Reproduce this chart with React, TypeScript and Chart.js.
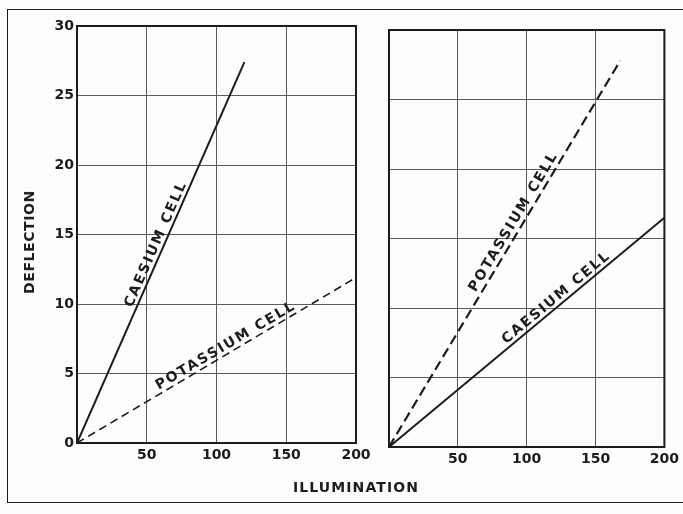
import React, { useEffect, useRef } from 'react';
import { Chart, registerables } from 'chart.js';

Chart.register(...registerables);

// ---- data ----
const xMin = 0;
const xMax = 200;
const xStep = 50;
const yMin = 0;
const yMax = 30;
const yStep = 5;

// left panel
const leftCaesiumX = [0, 120];
const leftCaesiumY = [0, 27.4];
const leftPotassiumX = [0, 200];
const leftPotassiumY = [0, 11.9];

// right panel
const rightCaesiumX = [0, 200];
const rightCaesiumY = [0, 16.5];
const rightPotassiumX = [0, 168];
const rightPotassiumY = [0, 27.8];

const caesiumLabel = 'CAESIUM CELL';
const potassiumLabel = 'POTASSIUM CELL';
const yTitle = 'DEFLECTION';
const xTitle = 'ILLUMINATION';

const INK = '#1c1c1c';
const GRID = '#5a5a5a';
const FONT = "'DejaVu Sans', sans-serif";

const toPoints = (xs: number[], ys: number[]) => xs.map((x, i) => ({ x, y: ys[i] }));

const lineLabelPlugin = {
  id: 'lineLabels',
  afterDatasetsDraw(chart: any) {
    const ctx = chart.ctx;
    chart.data.datasets.forEach((ds: any, i: number) => {
      const lab = ds.lineLabel;
      if (!lab) return;
      const meta = chart.getDatasetMeta(i);
      const p0 = meta.data[0];
      const p1 = meta.data[meta.data.length - 1];
      const dx = p1.x - p0.x;
      const dy = p1.y - p0.y;
      const ang = Math.atan2(dy, dx);
      const sx = p0.x + dx * lab.at;
      const sy = p0.y + dy * lab.at;
      ctx.save();
      ctx.translate(sx, sy);
      ctx.rotate(ang);
      ctx.font = `bold 14px ${FONT}`;
      (ctx as any).letterSpacing = '1.9px';
      ctx.fillStyle = INK;
      ctx.textBaseline = 'alphabetic';
      ctx.textAlign = 'left';
      ctx.fillText(lab.text, 0, -lab.gap);
      ctx.restore();
    });
  },
};

const framePlugin = {
  id: 'plotFrame',
  afterDraw(chart: any) {
    const { left, top, right, bottom } = chart.chartArea;
    const ctx = chart.ctx;
    ctx.save();
    ctx.strokeStyle = INK;
    ctx.lineWidth = 2;
    ctx.strokeRect(left, top, right - left, bottom - top);
    ctx.restore();
  },
};

function makeConfig(opts: {
  datasets: any[];
  showY: boolean;
  yWidth: number;
  xHeight: number;
  padding: any;
}) {
  return {
    type: 'scatter' as const,
    data: { datasets: opts.datasets },
    plugins: [lineLabelPlugin, framePlugin],
    options: {
      animation: false as const,
      responsive: false,
      maintainAspectRatio: false,
      layout: { padding: opts.padding },
      plugins: { legend: { display: false }, tooltip: { enabled: false } },
      elements: { point: { radius: 0 } },
      scales: {
        x: {
          type: 'linear' as const,
          min: xMin,
          max: xMax,
          grid: { color: GRID, lineWidth: 1, drawTicks: false },
          border: { display: false },
          ticks: {
            stepSize: xStep,
            padding: 4,
            color: INK,
            font: { family: FONT, size: 14, weight: 'bold' },
            callback: (v: any) => (v === 0 ? '' : String(v)),
          },
          afterFit: (s: any) => {
            s.height = opts.xHeight;
          },
        },
        y: {
          type: 'linear' as const,
          min: yMin,
          max: yMax,
          grid: { color: GRID, lineWidth: 1, drawTicks: false },
          border: { display: false },
          ticks: {
            display: opts.showY,
            stepSize: yStep,
            padding: 3,
            color: INK,
            font: { family: FONT, size: 14, weight: 'bold' },
          },
          afterFit: (s: any) => {
            s.width = opts.yWidth;
          },
        },
      },
    },
  };
}

function Panel(props: { left: number; width: number; config: any }) {
  const ref = useRef<HTMLCanvasElement | null>(null);
  useEffect(() => {
    if (!ref.current) return;
    const chart = new Chart(ref.current, props.config);
    return () => chart.destroy();
  }, []);
  return (
    <canvas
      ref={ref}
      width={props.width}
      height={514}
      style={{ position: 'absolute', left: props.left, top: 0, width: props.width, height: 514 }}
    />
  );
}

export default function App() {
  const leftDatasets = [
    {
      data: toPoints(leftCaesiumX, leftCaesiumY),
      showLine: true,
      borderColor: INK,
      borderWidth: 2,
      lineLabel: { text: caesiumLabel, at: 0.35, gap: 4 },
    },
    {
      data: toPoints(leftPotassiumX, leftPotassiumY),
      showLine: true,
      borderColor: INK,
      borderWidth: 1.6,
      borderDash: [8, 5],
      lineLabel: { text: potassiumLabel, at: 0.3, gap: 4 },
    },
  ];
  const rightDatasets = [
    {
      data: toPoints(rightPotassiumX, rightPotassiumY),
      showLine: true,
      borderColor: INK,
      borderWidth: 2.2,
      borderDash: [10, 5],
      lineLabel: { text: potassiumLabel, at: 0.393, gap: 5 },
    },
    {
      data: toPoints(rightCaesiumX, rightCaesiumY),
      showLine: true,
      borderColor: INK,
      borderWidth: 2,
      lineLabel: { text: caesiumLabel, at: 0.435, gap: 4 },
    },
  ];

  const leftConfig = makeConfig({
    datasets: leftDatasets,
    showY: true,
    yWidth: 77,
    xHeight: 71,
    padding: { left: 0, top: 26, right: 19, bottom: 0 },
  });
  const rightConfig = makeConfig({
    datasets: rightDatasets,
    showY: false,
    yWidth: 24,
    xHeight: 67,
    padding: { left: 0, top: 30, right: 16, bottom: 0 },
  });

  return (
    <div
      style={{
        position: 'absolute',
        left: 0,
        top: 0,
        width: 683,
        height: 514,
        overflow: 'hidden',
        background: '#fdfdfb',
      }}
    >
      <div
        style={{
          position: 'absolute',
          left: 7,
          top: 9,
          width: 720,
          height: 494,
          borderTop: `1.5px solid ${INK}`,
          borderLeft: `1.5px solid ${INK}`,
          borderBottom: `1.5px solid ${INK}`,
          borderRight: 'none',
          boxSizing: 'border-box',
        }}
      />
      <Panel left={0} width={375} config={leftConfig} />
      <Panel left={365} width={318} config={rightConfig} />
      <div
        style={{
          position: 'absolute',
          left: 29,
          top: 242,
          transform: 'translate(-50%, -50%) rotate(-90deg)',
          font: `bold 14px ${FONT}`,
          letterSpacing: '0.6px',
          color: INK,
          whiteSpace: 'nowrap',
        }}
      >
        {yTitle}
      </div>
      <div
        style={{
          position: 'absolute',
          left: 356,
          top: 487,
          transform: 'translate(-50%, -50%)',
          font: `bold 14px ${FONT}`,
          letterSpacing: '1.1px',
          color: INK,
          whiteSpace: 'nowrap',
        }}
      >
        {xTitle}
      </div>
    </div>
  );
}
